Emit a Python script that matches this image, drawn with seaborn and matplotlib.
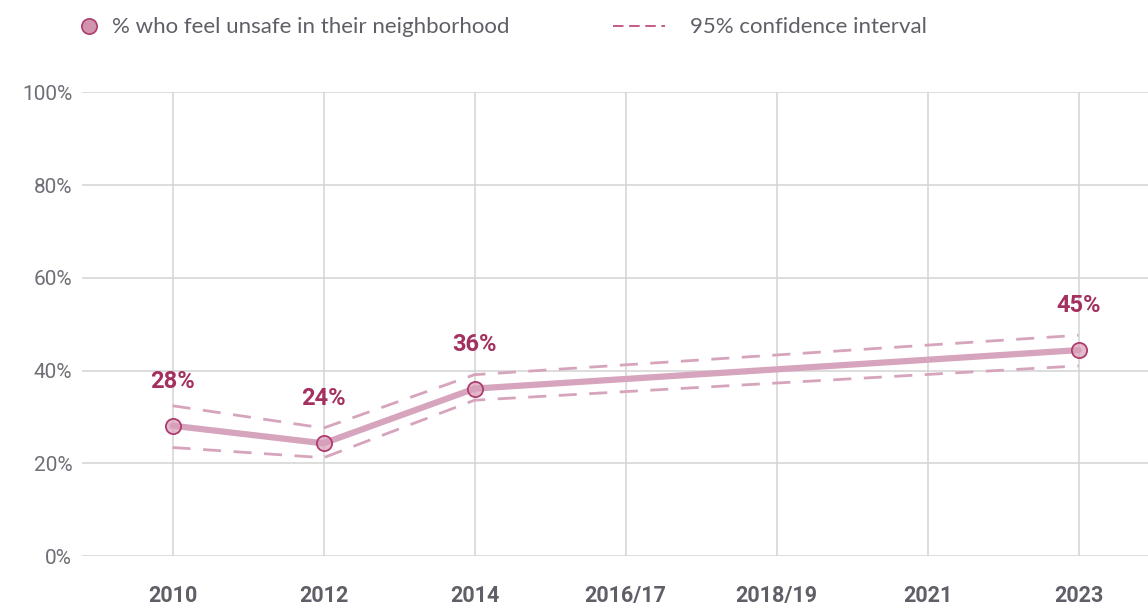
import numpy as np
import pandas as pd
import matplotlib.pyplot as plt
import seaborn as sns
from matplotlib.lines import Line2D

# data
years = ["2010", "2012", "2014", "2016/17", "2018/19", "2021", "2023"]
pct_unsafe = [28.1, 24.3, 36.1, np.nan, np.nan, np.nan, 44.4]
ci_upper = [32.4, 27.6, 39.1, np.nan, np.nan, np.nan, 47.6]
ci_lower = [23.4, 21.2, 33.6, np.nan, np.nan, np.nan, 41.0]
labels = ["28%", "24%", "36%", None, None, None, "45%"]

LINE = "#d6a4bc"
EDGE = "#ad3d6e"
LABEL = "#a3305f"
GRID = "#d3d3d3"
TXT = "#5f5f68"

df = pd.DataFrame({"pos": range(len(years)), "year": years, "pct": pct_unsafe,
                   "hi": ci_upper, "lo": ci_lower, "label": labels})
df = df.dropna(subset=["pct"])

sns.set_style("white")
plt.rcParams["font.family"] = ["Roboto", "DejaVu Sans"]

fig = plt.figure(figsize=(11.48, 6.07), dpi=100)
ax = fig.add_axes([0.0714, 0.084, 0.9286, 0.764])

for col in ["hi", "lo"]:
    sns.lineplot(data=df, x="pos", y=col, ax=ax, color=LINE, lw=2.0,
                 dashes=False, linestyle=(0, (6.5, 4.5)), zorder=3)

sns.lineplot(data=df, x="pos", y="pct", ax=ax, color=LINE, lw=4.5, zorder=4)
ax.scatter(df["pos"], df["pct"], s=120, facecolor=(0.85, 0.62, 0.73, 0.7),
           edgecolor=EDGE, linewidth=1.3, zorder=5)

for _, r in df.iterrows():
    ax.annotate(r["label"], (r["pos"], r["pct"]), xytext=(0, 32),
                textcoords="offset points", ha="center", va="center",
                fontsize=17, fontweight="bold", color=LABEL)

ax.set_ylim(0, 100)
ax.set_xlim(-0.6, 6.46)
ax.set_yticks(range(0, 101, 20))
ax.set_yticklabels([f"{v}%" for v in range(0, 101, 20)], fontsize=15, color="#6e6e76")
ax.set_xticks(range(len(years)))
ax.set_xticklabels(years, fontsize=15.5, fontweight="bold", color=TXT)
ax.tick_params(axis="x", length=9, width=1.2, color=GRID, pad=12)
ax.tick_params(axis="y", length=0, pad=7)
ax.grid(True, color=GRID, lw=1.1)
ax.set_xlabel("")
ax.set_ylabel("")
for s in ax.spines.values():
    s.set_visible(False)

h1 = Line2D([], [], marker="o", ls="", markersize=11,
            markerfacecolor="#d293ae", markeredgecolor=EDGE, markeredgewidth=1.2)
h2 = Line2D([], [], color="#c55a86", lw=1.4, ls=(0, (5.4, 2.9)))
leg1 = fig.legend([h1], ["% who feel unsafe in their neighborhood"], loc="center left",
                  bbox_to_anchor=(0.0505, 0.955), frameon=False, handlelength=1.0,
                  handletextpad=0.55, prop={"family": "Lato", "size": 16})
leg2 = fig.legend([h2], ["95% confidence interval"], loc="center left",
                  bbox_to_anchor=(0.5166, 0.955), frameon=False, handlelength=2.35,
                  handletextpad=1.1, prop={"family": "Lato", "size": 16})
for lg in (leg1, leg2):
    for t in lg.get_texts():
        t.set_color(TXT)

fig.savefig("out.png", dpi=100)
